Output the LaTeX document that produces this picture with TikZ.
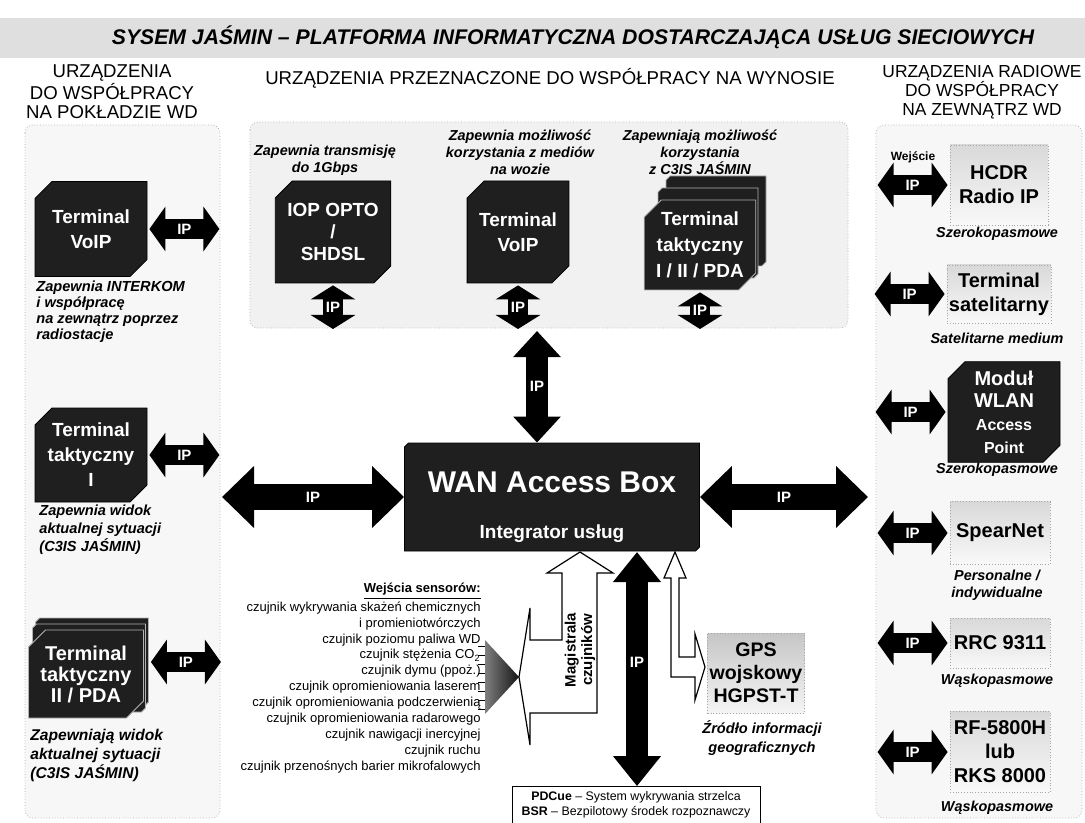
\documentclass[tikz,border=0pt]{standalone}
\usepackage{fontspec}
\setmainfont{Liberation Sans}
\usetikzlibrary{shapes.misc,shapes.geometric,arrows.meta,positioning,calc}

\begin{document}
\begin{tikzpicture}[x=0.5pt,y=-0.5pt,
  panel/.style={draw=gray!60,densely dotted,rounded corners=4pt,fill=gray!6},
  hdr/.style={align=center,font=\fontsize{9.3}{9.6}\selectfont},
  blk/.style={chamfered rectangle,chamfered rectangle corners={north west,south east},
    chamfered rectangle xsep=5pt,fill=black!88,draw=black,text=white,align=center,
    inner sep=1pt,font=\bfseries\fontsize{9.5}{12.5}\selectfont},
  stack/.style={blk,draw=gray!60},
  radio/.style={rectangle,draw=gray!70,densely dotted,top color=gray!30,bottom color=gray!5,
    align=center,inner sep=1pt,font=\bfseries\fontsize{10}{12}\selectfont},
  note/.style={align=center,font=\bfseries\itshape\fontsize{7.2}{8.5}\selectfont},
  iparr/.style={line width=10pt,{Triangle[length=8pt,width=22pt]}-{Triangle[length=8pt,width=22pt]}},
  ipmid/.style={line width=11pt,{Triangle[length=13pt,width=23pt]}-{Triangle[length=13pt,width=23pt]}},
  ipbig/.style={line width=13pt,{Triangle[length=16pt,width=30pt]}-{Triangle[length=16pt,width=30pt]}},
  iplbl/.style={text=white,font=\bfseries\fontsize{7.5}{8}\selectfont},
  hollow/.style={draw=black,fill=white,line width=0.6pt}
]
\useasboundingbox (0,0) rectangle (1085,823);
\fill[gray!25] (0,18) rectangle (1085,58);
\node[font=\bfseries\itshape\fontsize{10.6}{12}\selectfont] (title) at (573,37)
  {SYSEM JAŚMIN – PLATFORMA INFORMATYCZNA DOSTARCZAJĄCA USŁUG SIECIOWYCH};

\draw[panel] (25,125) rectangle (220,818);
\draw[panel,fill=gray!11] (250,122) rectangle (848,328);
\draw[panel] (876,125) rectangle (1082,818);

\node[hdr] (hdrL) at (112,92) {URZĄDZENIA\\DO WSPÓŁPRACY\\NA POKŁADZIE WD};
\node[hdr] (hdrM) at (550,78) {URZĄDZENIA PRZEZNACZONE DO WSPÓŁPRACY NA WYNOSIE};
\node[hdr,font=\fontsize{8.7}{9.6}\selectfont] (hdrR) at (982,92) {URZĄDZENIA RADIOWE\\DO WSPÓŁPRACY\\NA ZEWNĄTRZ WD};

% pokład
\node[blk,minimum width=56pt,minimum height=47.5pt] (voipL) at (91,229) {Terminal\\VoIP};
\node[note,anchor=north west,align=left,font=\bfseries\itshape\fontsize{7.3}{7.85}\selectfont,inner sep=0pt]
  (capL1) at (36,281) {Zapewnia INTERKOM\\i współpracę\\na zewnątrz poprzez\\radiostacje};
\node[blk,minimum width=56pt,minimum height=47pt] (taktL) at (91,455) {Terminal\\taktyczny\\I};
\node[note,anchor=north west,align=left,font=\bfseries\itshape\fontsize{7.3}{9}\selectfont,inner sep=0pt]
  (capL2) at (39,505) {Zapewnia widok\\aktualnej sytuacji\\(C3IS JAŚMIN)};
\node[stack,minimum width=56.5pt,minimum height=44pt] (pdaB) at (92,662) {};
\node[stack,minimum width=56.5pt,minimum height=44pt] (pdaM) at (89,668) {};
\node[stack,minimum width=56.5pt,minimum height=44pt,font=\bfseries\fontsize{10}{10.5}\selectfont]
  (pdaL) at (86,674) {Terminal\\taktyczny\\II / PDA};
\node[note,anchor=north west,align=left,font=\bfseries\itshape\fontsize{7.8}{9.5}\selectfont,inner sep=0pt]
  (capL3) at (30,729) {Zapewniają widok\\aktualnej sytuacji\\(C3IS JAŚMIN)};
\foreach \n in {voipL,taktL,pdaB}
  \draw[iparr] ([xshift=1pt]\n.east) -- ([xshift=36pt]\n.east) node[midway,iplbl]{IP};

% na wynosie
\node[note] (capT1) at (325,160) {Zapewnia transmisję\\do 1Gbps};
\node[note] (capT2) at (520,152) {Zapewnia możliwość\\korzystania z mediów\\na wozie};
\node[note] (capT3) at (700,152) {Zapewniają możliwość\\korzystania\\z C3IS JAŚMIN};
\node[blk,minimum width=50pt,minimum height=51pt,font=\bfseries\fontsize{9.5}{11}\selectfont]
  (iop) at (333,232) {IOP OPTO\\/\\SHDSL};
\node[blk,minimum width=48pt,minimum height=51pt] (voipT) at (518,232) {Terminal\\VoIP};
\node[stack,minimum width=50pt,minimum height=45pt] (tacB) at (716,221) {};
\node[stack,minimum width=50pt,minimum height=45pt] (tacM) at (708,233) {};
\node[stack,minimum width=50pt,minimum height=45pt,font=\bfseries\fontsize{9.5}{13}\selectfont]
  (tacF) at (700,245) {Terminal\\taktyczny\\I / II / PDA};
\coordinate (topEdge) at (0,329);
\foreach \n in {iop,voipT,tacF}
  \draw[iparr,{Triangle[length=7pt,width=22pt]}-{Triangle[length=7pt,width=22pt]}]
    ([yshift=-1pt]\n.south) -- (\n.south |- topEdge) node[midway,iplbl]{IP};

% integrator
\node[blk,minimum width=147.5pt,minimum height=54pt,chamfered rectangle xsep=6pt] (wan) at (552,497) {};
\node[text=white,font=\bfseries\fontsize{15}{16}\selectfont] (wanT) at (552,482) {WAN Access Box};
\node[text=white,font=\bfseries\fontsize{9.5}{10}\selectfont] (wanS) at (552,534) {Integrator usług};
\coordinate (upIP) at (537,331);
\draw[ipmid] (upIP) -- (upIP |- wan.north) node[midway,iplbl]{IP};
\coordinate (lEnd) at (222,497);
\coordinate (rEnd) at (868,497);
\draw[ipbig] (lEnd) -- (wan.west) node[midway,iplbl]{IP};
\draw[ipbig] (wan.east) -- (rEnd) node[midway,iplbl]{IP};

% sensory
\node[anchor=north east,align=right,font=\fontsize{6.5}{7.95}\selectfont,inner sep=0pt] (sens) at (481,583)
  {\underline{\textbf{Wejścia sensorów:}}\\czujnik wykrywania skażeń chemicznych\\i promieniotwórczych\\
   czujnik poziomu paliwa WD\\czujnik stężenia CO\textsubscript{2}\\czujnik dymu (ppoż.)\\
   czujnik opromieniowania laserem\\czujnik opromieniowania podczerwienią\\
   czujnik opromieniowania radarowego\\czujnik nawigacji inercyjnej\\czujnik ruchu\\
   czujnik przenośnych barier mikrofalowych};
\shade[left color=black!50,right color=black!92] (485,640) -- (519,677) -- (485,714) -- cycle;
\foreach \i in {0,...,7}
  \draw[line width=0.4pt] (478,646+9*\i) -- (485,646+9*\i);
\draw[hollow] (580,552) -- (613,573) -- (597,573) -- (597,713) -- (530,713) -- (530,745)
  -- (519,677) -- (530,608) -- (530,640) -- (562,640) -- (562,573) -- (547,573) -- cycle;
\node[rotate=90,align=center,font=\bfseries\fontsize{7.5}{8.3}\selectfont] (bus) at (580,650)
  {Magistrala\\czujników};

\node[draw=black,fill=white,align=center,font=\fontsize{6.2}{7.6}\selectfont,
  minimum width=124pt,minimum height=18.5pt,inner sep=1pt] (pd) at (636,805)
  {\textbf{PDCue} – System wykrywania strzelca\\\textbf{BSR} – Bezpilotowy środek rozpoznawczy};
\coordinate (dnIP) at (637,552);
\draw[ipmid,{Triangle[length=15pt,width=23pt]}-{Triangle[length=15pt,width=23pt]}]
  (dnIP) -- (dnIP |- pd.north) node[pos=0.47,iplbl]{IP};

% GPS
\draw[hollow] (675,552) -- (686,578) -- (679,578) -- (679,657) -- (695,657) -- (695,634)
  -- (705,667) -- (695,700) -- (695,677) -- (671,677) -- (671,578) -- (664,578) -- cycle;
\node[radio,top color=gray!45,bottom color=gray!8,minimum width=48pt,minimum height=40pt,
  font=\bfseries\fontsize{9.8}{11.5}\selectfont] (gps) at (756,673) {GPS\\wojskowy\\HGPST-T};
\node[note,font=\bfseries\itshape\fontsize{7.3}{9.5}\selectfont] (capG) at (762,738)
  {Źródło informacji\\geograficznych};

% radiowe
\node[font=\bfseries\fontsize{6}{7}\selectfont] (wej) at (913,157) {Wejście};
\node[radio,minimum width=49pt,minimum height=40pt] (hcdr) at (999,185) {HCDR\\Radio IP};
\node[note] (capR1) at (997,234) {Szerokopasmowe};
\node[radio,minimum width=49pt,minimum height=29pt] (sat) at (999,294) {Terminal\\satelitarny};
\node[note] (capR2) at (997,338) {Satelitarne medium};
\node[blk,minimum width=56pt,minimum height=47.5pt,font=\bfseries\fontsize{10}{11.3}\selectfont]
  (wlan) at (1004,412) {Moduł\\WLAN\\{\fontsize{8}{10}\selectfont Access}\\{\fontsize{8}{10}\selectfont Point}};
\node[note] (capR3) at (997,470) {Szerokopasmowe};
\node[radio,minimum width=50pt,minimum height=31.5pt] (spear) at (1000,533) {SpearNet};
\node[note] (capR4) at (997,585) {Personalne /\\indywidualne};
\node[radio,minimum width=50pt,minimum height=25pt] (rrc) at (1000,643) {RRC 9311};
\node[note] (capR5) at (997,681) {Wąskopasmowe};
\node[radio,minimum width=50pt,minimum height=40.5pt] (rf) at (1000,752) {RF-5800H\\lub\\RKS 8000};
\node[note] (capR6) at (997,808) {Wąskopasmowe};
\foreach \n in {hcdr,sat,wlan,spear,rrc,rf}
  \draw[iparr] ([xshift=-1pt]\n.west) -- ([xshift=-36pt]\n.west) node[midway,iplbl]{IP};
\end{tikzpicture}
\end{document}
